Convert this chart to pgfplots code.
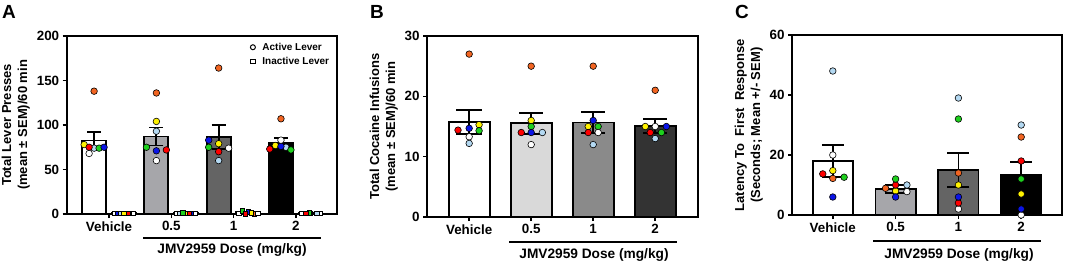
\documentclass[border=0pt]{standalone}
\usepackage{fontspec}
\setmainfont{Liberation Sans}
\usepackage{pgfplots}
\pgfplotsset{compat=1.18}
\definecolor{cOr}{HTML}{F26522}
\definecolor{cYe}{HTML}{FFF200}
\definecolor{cLb}{HTML}{B4D9F2}
\definecolor{cRe}{HTML}{FF0000}
\definecolor{cGr}{HTML}{1ED01E}
\definecolor{cBl}{HTML}{0A14E6}
\definecolor{gLa}{HTML}{A6A6AA}
\definecolor{gDa}{HTML}{646464}
\definecolor{gLb}{HTML}{D9D9D9}
\definecolor{gMb}{HTML}{8A8A8A}
\definecolor{gDb}{HTML}{333333}
\pgfplotsset{
  base/.style={scale only axis, clip=false, anchor=south west,
    axis line style={line width=1.8pt}, tick style={line width=1.6pt, black},
    tick align=outside, major tick length=4pt, xtick pos=bottom, ytick pos=left,
    xtick={0,1,2,3}, xticklabels={Vehicle,0.5,1,2},
    ticklabel style={font=\bfseries\fontsize{13.4}{13.4}\selectfont},
    /pgf/number format/assume math mode=true,
    label style={font=\bfseries\fontsize{13}{16}\selectfont, align=center},
    ymin=0},
  dot/.style={forget plot, only marks, mark=*, mark size=3.3pt, mark options={draw=black, line width=0.6pt, fill=#1}},
  sq/.style={forget plot, only marks, mark=square*, mark size=2.2pt, mark options={draw=black, line width=0.5pt, fill=#1}},
  bar/.style={forget plot, ybar, bar shift=0pt, draw=black, line width=1.8pt, fill=#1},
  eb/.style={error bars/.cd, y dir=both, y explicit,
    error bar style={line width=1.8pt, draw=black, solid},
    error mark options={rotate=90, line width=1.8pt, draw=black, mark size=#1}},
}
\begin{document}
\begin{tikzpicture}[x=1pt,y=1pt]
\path[use as bounding box] (0,0) rectangle (1065,263);
% ---------------- Panel A ----------------
\begin{axis}[base, at={(66.7pt,49pt)}, width=270.3pt, height=178pt,
  xmin=-0.68, xmax=3.66, ymax=200, ytick={0,50,100,150,200},
  ylabel={Total Lever Presses\\(mean ± SEM)/60 min},
  legend style={at={(0.99,0.985)}, anchor=north east, draw=none, fill=none,
    font=\bfseries\fontsize{10}{11}\selectfont, row sep=1.5pt, column sep=5pt},
  legend cell align=left]
\addlegendimage{only marks, mark=o, mark size=2.5pt, black, line width=1pt}
\addlegendentry{Active Lever}
\addlegendimage{only marks, mark=square, mark size=2.3pt, black, line width=1pt}
\addlegendentry{Inactive Lever}
% inactive bars
\addplot[bar=white, bar width=0.385] coordinates {(0.235,1.5) (1.235,1.5) (2.235,2) (3.235,1.5)};
% active bars with error bars
\addplot[bar=white, bar width=0.385, eb=7pt] coordinates {(-0.24,82.6) +- (0,9.7)};
\addplot[bar=gLa, bar width=0.385, eb=7pt] coordinates {(0.76,87.1) +- (0,10.1)};
\addplot[bar=gDa, bar width=0.385, eb=7pt] coordinates {(1.76,86.4) +- (0,13.4)};
\addplot[bar=black, bar width=0.385, eb=7pt] coordinates {(2.76,80.4) +- (0,4.8)};
% active points
\addplot[dot=cOr] coordinates {(-0.24,138) (0.76,136) (1.76,164) (2.76,107)};
\addplot[dot=cYe] coordinates {(-0.40,78) (0.76,104) (1.76,79) (2.67,77)};
\addplot[dot=cLb] coordinates {(-0.24,74) (0.76,93) (1.76,60) (2.84,75)};
\addplot[dot=cGr] coordinates {(-0.16,74) (0.60,75) (1.60,75) (2.92,72)};
\addplot[dot=cBl] coordinates {(-0.08,75) (0.76,71) (1.60,83) (2.76,76)};
\addplot[dot=cRe] coordinates {(-0.32,75) (0.92,72) (1.76,70) (2.58,73)};
\addplot[dot=white] coordinates {(-0.32,68) (0.76,60) (1.92,74) (2.76,83)};
% inactive points
\addplot[sq=cOr] coordinates {(0.285,1) (1.185,1) (2.335,0.5) (3.135,1)};
\addplot[sq=white] coordinates {(0.085,1) (1.085,1) (2.085,1) (3.085,1) (3.385,1)};
\addplot[sq=cBl] coordinates {(0.135,1) (1.335,1) (2.235,2.5) (3.235,1)};
\addplot[sq=cLb] coordinates {(0.185,1) (1.135,1) (2.385,0.8) (3.335,1)};
\addplot[sq=cYe] coordinates {(0.235,1) (1.235,1) (2.285,1.5) (3.185,1)};
\addplot[sq=cGr] coordinates {(0.335,1) (1.185,1.2) (2.135,3.8) (3.210,1.2)};
\addplot[sq=cRe] coordinates {(0.310,0.6) (1.285,0.6) (2.185,0.3) (3.160,0.6)};
\addplot[sq=white] coordinates {(0.385,1) (1.385,1) (2.385,1)};
\end{axis}
% ---------------- Panel B ----------------
\begin{axis}[base, at={(427pt,46pt)}, width=271pt, height=181pt,
  xmin=-0.68, xmax=3.69, ymax=30, ytick={0,10,20,30},
  ylabel={Total Cocaine Infusions\\(mean ± SEM)/60 min}]
\addplot[bar=white, bar width=0.66, eb=13pt] coordinates {(0,15.8) +- (0,2.0)};
\addplot[bar=gLb, bar width=0.66, eb=12pt] coordinates {(1,15.55) +- (0,1.75)};
\addplot[bar=gMb, bar width=0.66, eb=12pt] coordinates {(2,15.66) +- (0,1.8)};
\addplot[bar=gDb, bar width=0.66, eb=12pt] coordinates {(3,15.1) +- (0,1.2)};
\addplot[dot=cOr] coordinates {(0,27) (1,25) (2,25) (3,21)};
\addplot[dot=cYe] coordinates {(0.16,15.3) (1,16) (1.92,15) (2.84,15)};
\addplot[dot=cGr] coordinates {(0.16,14.3) (1,15) (2.08,15) (3.10,14)};
\addplot[dot=cBl] coordinates {(0,14.7) (1,14) (2,16) (3.18,15)};
\addplot[dot=cRe] coordinates {(-0.18,14.4) (0.84,14) (1.92,14) (2.92,14)};
\addplot[dot=white] coordinates {(0,13.3) (1,12) (2.08,14) (3,15)};
\addplot[dot=cLb] coordinates {(0,12.2) (1.18,14) (2,12) (3,13)};
\end{axis}
% ---------------- Panel C ----------------
\begin{axis}[base, at={(792pt,48pt)}, width=270pt, height=180pt,
  xmin=-0.65, xmax=3.65, ymax=60, ytick={0,20,40,60},
  ylabel={Latency To\ \ First\ \ Response\\(Seconds; Mean +/- SEM)}]
\addplot[bar=white, bar width=0.64, eb=11pt] coordinates {(0,18) +- (0,5.3)};
\addplot[bar=gLa, bar width=0.64, eb=11pt] coordinates {(1,8.7) +- (0,1.4)};
\addplot[bar=gDa, bar width=0.64, eb=11pt] coordinates {(2,15) +- (0,5.6)};
\addplot[bar=black, bar width=0.64, eb=11pt] coordinates {(3,13.4) +- (0,4.4)};
\addplot[dot=cLb] coordinates {(0,48) (1.18,10) (2,39) (3,30)};
\addplot[dot=white] coordinates {(0,20) (1.18,7.8) (2,2) (3,0)};
\addplot[dot=cYe] coordinates {(0,14.8) (1,8) (2,10) (3,7)};
\addplot[dot=cRe] coordinates {(-0.16,13.7) (1,10) (2,4) (3,18)};
\addplot[dot=cOr] coordinates {(0,12.2) (0.84,8.9) (2,14) (3,26)};
\addplot[dot=cGr] coordinates {(0.18,12.6) (1,12) (2,32) (3,12)};
\addplot[dot=cBl] coordinates {(0,6) (1,6) (2,6) (3,2)};
\end{axis}
% ---------------- annotations ----------------
\begin{scope}[font=\bfseries\fontsize{13.7}{14}\selectfont]
\node at (9,251) {\fontsize{19}{19}\selectfont A};
\node at (377,251) {\fontsize{19}{19}\selectfont B};
\node at (742,251) {\fontsize{19}{19}\selectfont C};
\draw[line width=1.8pt] (143,25) -- (321,25);
\node at (232,13) {JMV2959 Dose (mg/kg)};
\draw[line width=1.8pt] (509,21) -- (677,21);
\node at (594,8) {JMV2959 Dose (mg/kg)};
\draw[line width=1.8pt] (873,22) -- (1041,22);
\node at (959,8) {JMV2959 Dose (mg/kg)};
\end{scope}
\end{tikzpicture}
\end{document}
